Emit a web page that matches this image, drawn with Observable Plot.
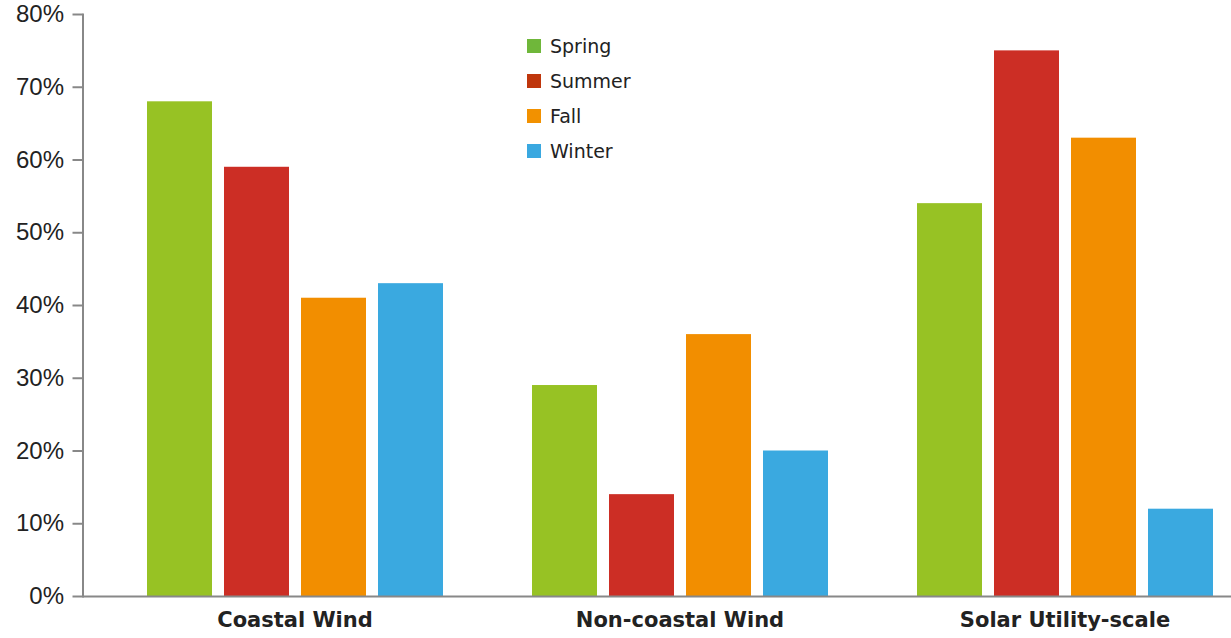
<!DOCTYPE html>
<html><head><meta charset="utf-8">
<script src="https://cdn.jsdelivr.net/npm/d3@7"></script>
<script src="https://cdn.jsdelivr.net/npm/@observablehq/plot@0.6"></script>
<style>
body{margin:0;background:#fff;}
#wrap{position:relative;width:1231px;height:638px;}
#legend{position:absolute;left:527px;top:28px;font-family:"DejaVu Sans",sans-serif;font-size:19px;color:#222;}
.item{display:flex;align-items:center;height:35px;}
.sw{width:14px;height:14px;margin-right:9px;}
</style></head><body><div id="wrap"><div id="legend"></div></div>
<script>
const groups = ["Coastal Wind","Non-coastal Wind","Solar Utility-scale"];
const seasons = ["Spring","Summer","Fall","Winter"];
const spring = [68,29,54];
const summer = [59,14,75];
const fall = [41,36,63];
const winter = [43,20,12];
const yTicks = [0,10,20,30,40,50,60,70,80];
const barColors = ["#97c224","#cc2e25","#f28e00","#3aa9e0"];
const legendColors = ["#6fb73a","#bf360c","#f29100","#3aa8e0"];

const series = [spring, summer, fall, winter];
const data = groups.flatMap((g,i)=>seasons.map((s,j)=>({group:g, season:s, value:series[j][i]})));

const chart = Plot.plot({
  width:1231, height:638, marginTop:14, marginBottom:42, marginLeft:82, marginRight:0,
  style:{fontFamily:"Liberation Sans, sans-serif", color:"#222", background:"white", overflow:"visible"},
  fx:{domain:groups, range:[101.5,1256.5], padding:0, label:null},
  x:{domain:seasons, paddingInner:0.156, paddingOuter:0.578, axis:null},
  y:{domain:[0,80], label:null},
  color:{domain:seasons, range:barColors},
  marks:[
    Plot.barY(data,{fx:"group", x:"season", y:"value", fill:"season"}),
    Plot.ruleY([0],{stroke:"#888", strokeWidth:2, insetLeft:-19.5, insetRight:-770, facetAnchor:"left"}),
    Plot.frame({anchor:"left", stroke:"#888", strokeWidth:2, dx:-19.5, facetAnchor:"left"}),
    Plot.axisY({ticks:yTicks, tickFormat:d=>d+"%", tickSize:10, tickPadding:9, fontSize:24, stroke:"#888", strokeWidth:2, fill:"#222", dx:-19.5, label:null}),
    Plot.axisFx({anchor:"bottom", tickSize:0, tickPadding:16, fontSize:21, fontWeight:"bold", fontFamily:"DejaVu Sans, sans-serif", fill:"#222", label:null})
  ]
});
document.getElementById("wrap").prepend(chart);
const leg = document.getElementById("legend");
seasons.forEach((s,i)=>{
  const it = document.createElement("div"); it.className="item";
  const sw = document.createElement("div"); sw.className="sw"; sw.style.background=legendColors[i];
  const t = document.createElement("span"); t.textContent=s;
  it.append(sw,t); leg.append(it);
});
</script></body></html>
